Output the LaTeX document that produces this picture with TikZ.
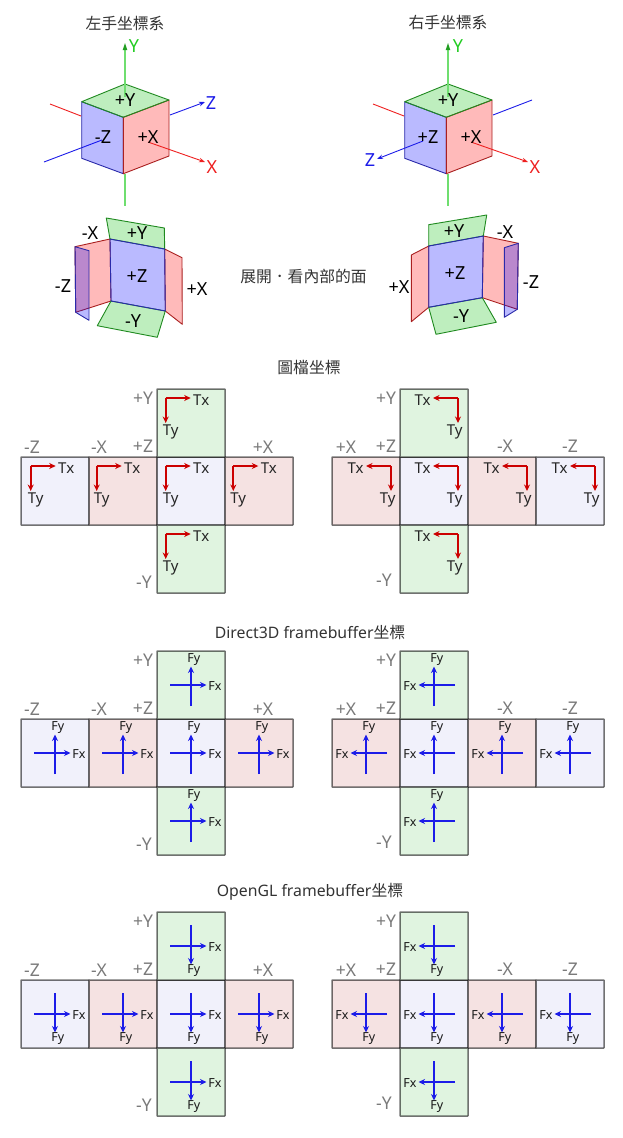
\documentclass[tikz,border=0pt]{standalone}
\usepackage{fontspec}
\setmainfont{Noto Sans}
\newfontfamily\cjk{Noto Sans CJK TC}
\usepackage{tikz}
\usetikzlibrary{arrows.meta}
\definecolor{faceb}{HTML}{F1F1FB}
\definecolor{facer}{HTML}{F5E2E2}
\definecolor{faceg}{HTML}{E0F4E0}
\definecolor{edgeb}{HTML}{2A2AAA}
\definecolor{edger}{HTML}{AA2020}
\definecolor{edgeg}{HTML}{208A20}
\definecolor{quadg}{HTML}{0FC00F}
\definecolor{axisg}{HTML}{22CC22}
\definecolor{axisb}{HTML}{1C1CE8}
\definecolor{axisr}{HTML}{EE2020}
\definecolor{vgrey}{HTML}{7A7A7A}
\definecolor{vtitle}{HTML}{333333}
\tikzset{
  cell/.style={draw=black,draw opacity=.55,line width=1.5pt,minimum size=68pt,inner sep=0,outer sep=0,anchor=north west,rounded corners=.5pt},
  blueq/.style={fill=blue,fill opacity=.27,draw=edgeb,draw opacity=1,line width=.9pt,line join=round},
  redq/.style={fill=red,fill opacity=.27,draw=edger,draw opacity=1,line width=.9pt,line join=round},
  greenq/.style={fill=quadg,fill opacity=.27,draw=edgeg,draw opacity=1,line width=.9pt,line join=round},
  lbl/.style={font=\fontsize{18}{20}\selectfont,text=black,inner sep=0},
  glbl/.style={font=\fontsize{17.5}{20}\selectfont,text=vgrey,inner sep=0},
  ttl/.style={font=\fontsize{15.8}{18}\selectfont,text=vtitle,inner sep=0},
  tlbl/.style={font=\fontsize{15}{17}\selectfont,text=black!85,inner sep=0},
  flbl/.style={font=\fontsize{12.5}{14}\selectfont,text=black!90,inner sep=0},
  tarr/.style={-{Stealth[length=6.5pt,width=6pt]},line width=1.9pt,draw=red!80!black,line join=miter},
  farr/.style={-{Stealth[length=6.5pt,width=6pt]},line width=1.9pt,draw=axisb},
  yline/.style={line width=1.7pt,draw=axisg!65},
  thin axis/.style={line width=.9pt},
  axarr/.style={-{Stealth[length=6pt,width=4.5pt]},line width=.9pt},
}
\newcommand{\netcells}{21/68/faceb/30.7/1,89/68/facer/96.7/1,157/68/faceb/165.7/1,225/68/facer/233.3/1,157/0/faceg/165.7/1,157/136/faceg/165.7/1,
  332/68/facer/391/-1,400/68/faceb/458/-1,468/68/facer/527/-1,536/68/faceb/595/-1,400/0/faceg/458/-1,400/136/faceg/458/-1}
\begin{document}
\begin{tikzpicture}[x=1pt,y=-1pt]
  \useasboundingbox (0,0) rectangle (622,1138);
  % titles
  \node[ttl] (tleft) at (125,23) {\cjk 左手坐標系};
  \node[ttl] (tright) at (448,23) {\cjk 右手坐標系};
  \node[ttl] (tfold) at (303.5,276) {\cjk 展開．看內部的面};
  \node[ttl] (ttex) at (309,367) {\cjk 圖檔坐標};
  \node[ttl] (td3d) at (310,632) {Direct3D framebuffer{\cjk 坐標}};
  \node[ttl] (togl) at (310,891.5) {OpenGL framebuffer{\cjk 坐標}};
  % the two cubes
  \draw[axisr,thin axis] (50,104) -- (81,116);
  \draw[axisb,thin axis] (44,162) -- (102,140);
  \draw[axisb,axarr] (170,115) -- (205,102);
  \draw[axisr,thin axis] (373,104) -- (404,116);
  \draw[axisb,thin axis] (493,115) -- (532,100);
  \foreach \sx/\zx in {0/0,323/1} {
    \begin{scope}[xshift=\sx pt]
      \draw[blueq] (81.7,101.7) -- (123.3,117.3) -- (123.3,173.7) -- (81.7,158.3) -- cycle;
      \draw[redq] (169,100) -- (123.3,117.3) -- (123.3,173.7) -- (169,156) -- cycle;
      \draw[greenq] (125,84) -- (169,100) -- (123.3,117.3) -- (81.7,101.7) -- cycle;
      \draw[yline] (125,174) -- (125,206);
      \draw[yline] (125,97) -- (125,49);
      \fill[edgeg!70!axisg] (125,43) -- (127.3,50) -- (122.7,50) -- cycle;
      \draw[axisr,axarr] (148,142) -- (205,162);
    \end{scope}
  }
  \draw[axisb,axarr] (423,141) -- (377,159);
  % unfolded cube, left
  \draw[redq] (110,239) -- (75,246.7) -- (75.7,312.3) -- (111,301) -- cycle;
  \draw[blueq] (75,246.7) -- (89,250.7) -- (89,320.3) -- (75.7,312.3) -- cycle;
  \draw[redq] (164.7,249) -- (182,257.7) -- (182.3,324.3) -- (165.3,311) -- cycle;
  \draw[greenq] (106.3,218) -- (164.3,228) -- (164.7,249) -- (110,239) -- cycle;
  \draw[greenq] (111,301) -- (165.3,311) -- (157.3,337.3) -- (97.3,325.7) -- cycle;
  \draw[blueq] (110,239) -- (164.7,249) -- (165.3,311) -- (111,301) -- cycle;
  % unfolded cube, right
  \draw[redq] (483.3,236) -- (518.3,243.3) -- (517.3,309.3) -- (482.3,297.7) -- cycle;
  \draw[blueq] (504.3,247.7) -- (518.3,243.3) -- (517.3,309.3) -- (504.3,317.3) -- cycle;
  \draw[redq] (411.3,255) -- (428.7,246) -- (428.7,307.3) -- (411.3,321.7) -- cycle;
  \draw[greenq] (428.7,224.7) -- (486.7,215) -- (483.3,236) -- (428.7,246) -- cycle;
  \draw[greenq] (428.7,307.3) -- (482.3,297.7) -- (496.3,322.3) -- (436,334.3) -- cycle;
  \draw[blueq] (428.7,246) -- (483.3,236) -- (482.3,297.7) -- (428.7,307.3) -- cycle;
  % black labels
  \foreach \x/\y/\t [count=\ix] in {125/100/+Y,103/137/-Z,148/137/+X,448/100/+Y,428/137/+Z,471/137/+X,
      90/233/-X,137/233/+Y,137/276/+Z,63/286/-Z,197/289/+X,133/321/-Y,
      454/231/+Y,505/232/-X,455/273/+Z,531/282/-Z,399/287/+X,461/316/-Y}
    \node[lbl] (L\ix) at (\x,\y) {\t};
  \node[lbl,text=axisg] (ay1) at (134,46) {Y};
  \node[lbl,text=axisb] (az1) at (211,103) {Z};
  \node[lbl,text=axisr] (ax1) at (212,167) {X};
  \node[lbl,text=axisg] (ay2) at (458,46) {Y};
  \node[lbl,text=axisb] (az2) at (370,160) {Z};
  \node[lbl,text=axisr] (ax2) at (535,167) {X};
  % the three cross-shaped nets
  \foreach \ntop/\k in {389/T,651/D,912/O} {
    \foreach \cx/\ry/\fc/\ox/\m [count=\ix] in \netcells
      \node[cell,fill=\fc] (\k\ix) at (\cx,\ntop+\ry) {};
    \foreach \x/\dy/\t [count=\ix] in {32/58/-Z,99/58/-X,143/57/+Z,263/58/+X,143/9/+Y,144/193/-Y,
        346/58/+X,386/57/+Z,505/57/-X,570/57/-Z,386/9/+Y,384/191/-Y}
      \node[glbl] (\k L\ix) at (\x,\ntop+\dy) {\t};
  }
  % texture axes
  \foreach \cx/\ry/\fc/\ox/\m [count=\ix] in \netcells {
    \coordinate (To\ix) at (\ox,389+\ry+9);
    \coordinate (Tx\ix) at (\ox+25*\m,389+\ry+9);
    \coordinate (Ty\ix) at (\ox,389+\ry+34);
    \draw[tarr] (To\ix) -- (Tx\ix);
    \draw[tarr] (To\ix) -- (Ty\ix);
    \node[tlbl] (Tn\ix) at (\ox+35.5*\m,389+\ry+11.5) {Tx};
    \node[tlbl] (Tm\ix) at (\ox+.85+4.15*\m,389+\ry+43) {Ty};
  }
  % framebuffer axes, \vs is the way Fy points
  \foreach \ntop/\k/\vs in {651/D/-1,912/O/1} {
    \foreach \cx/\ry/\fc/\ox/\m [count=\ix] in \netcells {
      \coordinate (\k a\ix) at (\cx+34-21*\m,\ntop+\ry+34);
      \coordinate (\k b\ix) at (\cx+34+15.5*\m,\ntop+\ry+34);
      \coordinate (\k c\ix) at (\cx+34,\ntop+\ry+34-21*\vs);
      \coordinate (\k d\ix) at (\cx+34,\ntop+\ry+34+18.5*\vs);
      \draw[farr] (\k a\ix) -- (\k b\ix);
      \draw[farr] (\k c\ix) -- (\k d\ix);
      \node[flbl] (\k n\ix) at (\cx+34+24*\m,\ntop+\ry+35) {Fx};
      \node[flbl] (\k m\ix) at (\cx+36.7,\ntop+\ry+34+25*\vs) {Fy};
    }
  }
\end{tikzpicture}
\end{document}
